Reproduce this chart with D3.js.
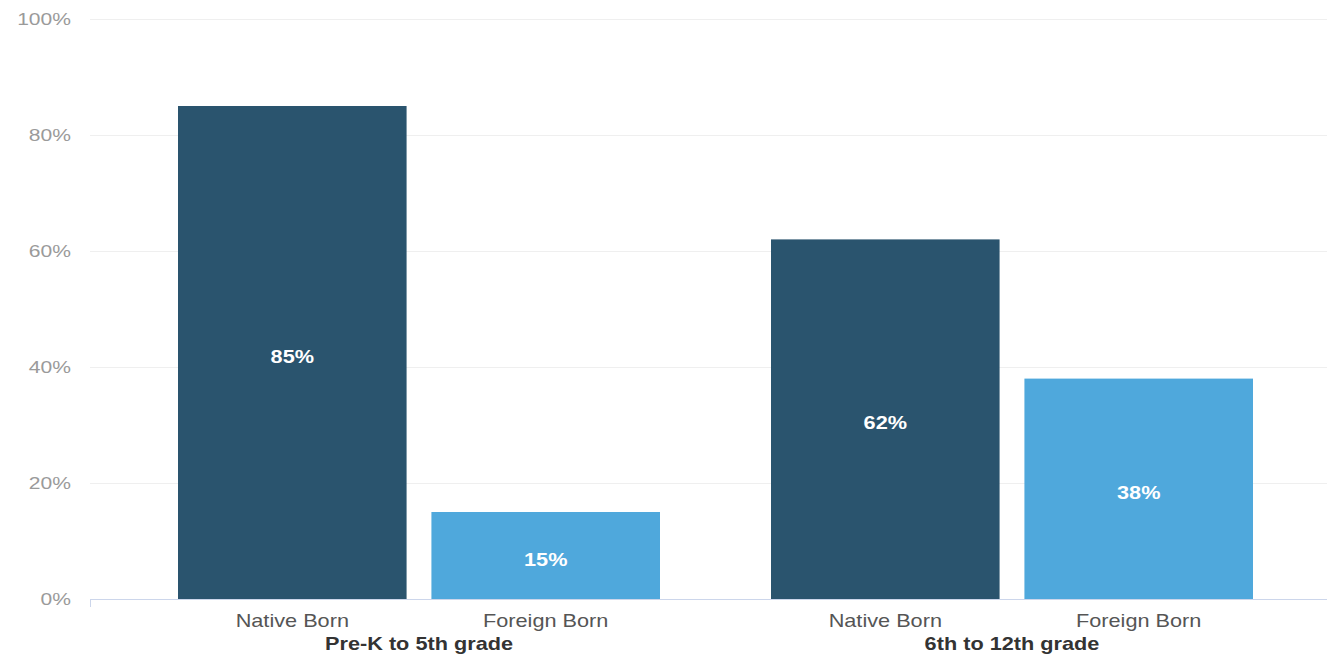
<!DOCTYPE html>
<html><head><meta charset="utf-8">
<script src="https://cdn.jsdelivr.net/npm/d3@7"></script>
<style>body{margin:0;background:#fff;}svg{display:block;font-family:"Liberation Sans",Arial,sans-serif;}</style>
</head><body>
<svg id="c" width="1327" height="663"></svg>
<script>
const groups = ["Pre-K to 5th grade", "6th to 12th grade"];
const categories = ["Native Born", "Foreign Born"];
const nativeBorn = [85, 62];
const foreignBorn = [15, 38];
const yTicks = [0, 20, 40, 60, 80, 100];
const colors = ["#2a546e", "#4fa8dc"];

const series = [nativeBorn, foreignBorn];
const data = [];
groups.forEach((g, gi) => categories.forEach((c, ci) => data.push({group: g, cat: c, ci, value: series[ci][gi]})));

const svg = d3.select("#c");
const SX = 1.24, FS = 17.5;
const axisLeft = 90, axisRight = 1327;
const y = d3.scaleLinear().domain([0, 100]).range([599, 19]);
const x0 = d3.scaleBand().domain(groups).range([122.5, 1308.5]).padding(0);
const x1 = d3.scaleBand().domain(categories).range([55.5, x0.bandwidth() - 55.5]).paddingInner(0.098).paddingOuter(0);
const tr = (x, yy) => `translate(${x},${yy}) scale(${SX},1)`;

// gridlines
svg.append("g").selectAll("line").data(yTicks.filter(t => t > 0)).join("line")
  .attr("x1", axisLeft).attr("x2", axisRight)
  .attr("y1", d => y(d) + 0.5).attr("y2", d => y(d) + 0.5)
  .attr("stroke", "#efefef").attr("stroke-width", 1);

// y tick labels
svg.append("g").selectAll("text").data(yTicks).join("text")
  .attr("transform", d => tr(71, y(d) + 0.5)).attr("dy", "0.35em")
  .attr("text-anchor", "end").attr("fill", "#9a9a9a").attr("font-size", 17)
  .text(d => d + "%");

// bars
svg.append("g").selectAll("rect").data(data).join("rect")
  .attr("x", d => x0(d.group) + x1(d.cat))
  .attr("width", x1.bandwidth())
  .attr("y", d => y(d.value))
  .attr("height", d => y(0) - y(d.value))
  .attr("fill", d => colors[d.ci]);

// value labels
svg.append("g").selectAll("text").data(data).join("text")
  .attr("transform", d => tr(x0(d.group) + x1(d.cat) + x1.bandwidth() / 2, (y(d.value) + y(0)) / 2 + 4))
  .attr("dy", "0.35em")
  .attr("text-anchor", "middle").attr("fill", "#fff").attr("font-size", FS).attr("font-weight", "bold")
  .text(d => d.value + "%");

// x axis line
svg.append("line").attr("x1", axisLeft).attr("x2", axisRight)
  .attr("y1", y(0) + 0.5).attr("y2", y(0) + 0.5).attr("stroke", "#ccd6eb").attr("stroke-width", 1);
svg.append("line").attr("x1", axisLeft + 0.5).attr("x2", axisLeft + 0.5)
  .attr("y1", y(0)).attr("y2", y(0) + 8).attr("stroke", "#ccd6eb");

// category labels
svg.append("g").selectAll("text").data(data).join("text")
  .attr("transform", d => tr(x0(d.group) + x1(d.cat) + x1.bandwidth() / 2, 627))
  .attr("text-anchor", "middle").attr("fill", "#555").attr("font-size", FS)
  .text(d => d.cat);

// group labels
svg.append("g").selectAll("text").data(groups).join("text")
  .attr("transform", d => tr(x0(d) + x0.bandwidth() / 2, 650))
  .attr("text-anchor", "middle").attr("fill", "#333").attr("font-size", FS).attr("font-weight", "bold")
  .text(d => d);
</script>
</body></html>
